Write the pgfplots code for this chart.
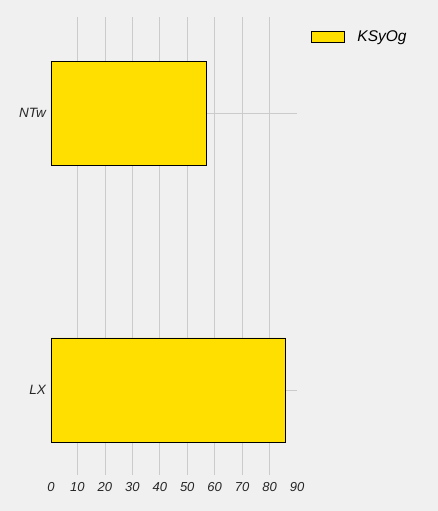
\documentclass[border=0pt]{standalone}
\usepackage{pgfplots}
\pgfplotsset{compat=1.18}
\usepackage{fontspec}
\setmainfont{Liberation Sans}
\definecolor{bg}{HTML}{F0F0F0}
\definecolor{gridc}{HTML}{CBCBCB}
\definecolor{baryellow}{HTML}{FFDF00}
\begin{document}
\begin{tikzpicture}
\path[use as bounding box, fill=bg] (-50pt,-36pt) rectangle (388pt,475pt);
\begin{axis}[
  at={(1pt,0pt)}, anchor=south west,
  scale only axis, width=246pt, height=458pt,
  xmin=0.35, xmax=90, ymin=-0.307, ymax=1.347,
  xbar, bar width=104pt,
  axis line style={draw=none},
  major tick length=0pt,
  xtick={10,20,...,80},
  extra x ticks={0.35,90},
  extra x tick labels={0,90},
  extra x tick style={grid=none},
  ytick={0,1}, yticklabels={LX,NTw},
  xmajorgrids, ymajorgrids,
  grid style={gridc, line width=0.8pt},
  tick label style={font=\fontsize{13}{15}\selectfont\itshape, text=black!85},
  yticklabel style={font=\fontsize{13.5}{15}\selectfont\itshape, xshift=-1.5pt},
  xticklabel style={yshift=-3.5pt},
  /pgf/number format/assume math mode=true,
  legend style={at={(1.0567,0.9574)}, anchor=west, draw=none, fill=none,
    inner sep=0pt, font=\fontsize{15.5}{17}\selectfont\itshape,
    nodes={inner sep=0pt}, column sep=12.5pt},
  legend image code/.code={\draw[#1, line width=0.8pt] (0pt,-5.5pt) rectangle (33pt,5.5pt);},
]
\addplot[fill=baryellow, draw=black, line width=0.8pt] coordinates {(85.8,0) (57.0,1)};
\addlegendentry{KSyOg}
\end{axis}
\end{tikzpicture}
\end{document}
